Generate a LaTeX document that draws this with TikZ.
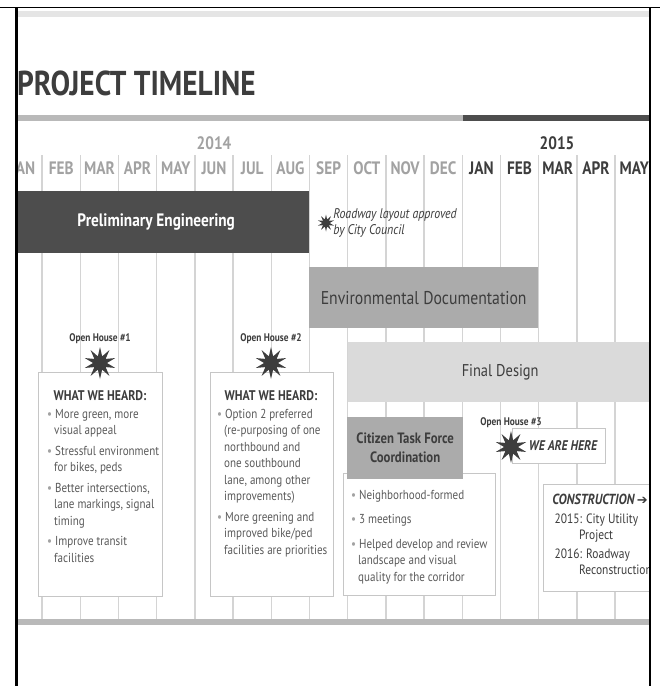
\documentclass[tikz,border=0pt]{standalone}
\usepackage{fontspec}
\setmainfont[FakeStretch=0.85]{PT Sans}
\newfontfamily\symfont{DejaVu Sans}
\usetikzlibrary{shapes.geometric}
\usetikzlibrary{positioning}
\definecolor{ink}{HTML}{3D3D3D}
\definecolor{prelimgray}{HTML}{4D4D4D}
\definecolor{envgray}{HTML}{ABABAB}
\definecolor{finalgray}{HTML}{DADADA}
\definecolor{gridgray}{HTML}{D4D4D4}
\definecolor{boxline}{HTML}{C6C6C6}
\definecolor{bodygray}{HTML}{5A5A5A}
\definecolor{oldgray}{HTML}{A2A2A2}
\newcommand{\bul}{{\color{oldgray}\textbullet}\ }
\newcommand{\ind}{\hspace*{7pt}}
\newcommand{\fs}[2]{\fontsize{#1}{#2}\selectfont}

\begin{document}
\begin{tikzpicture}[x=1pt, y=-1pt,
    month/.style={font=\bfseries\fs{18}{18}, text=oldgray, inner sep=0pt},
    newmonth/.style={font=\bfseries\fs{18}{18}, text=ink, inner sep=0pt},
    bar/.style={anchor=north west, inner sep=0pt, font=\fs{18.5}{18.5}},
    whitebox/.style={draw=boxline, line width=1.2pt, fill=white, anchor=north west, inner sep=0pt},
    burst/.style={star, star points=10, star point ratio=2.3, minimum size=32pt, fill=ink, inner sep=0pt},
    openhouse/.style={font=\bfseries\fs{11}{11}, text=ink, inner sep=0pt},
    heard/.style={font=\bfseries\fs{14}{14}, text=ink, inner sep=0pt},
    listtext/.style={font=\fs{13}{16.5}, text=bodygray, align=left, anchor=north west, inner sep=0pt}]
  \useasboundingbox (0,0) rectangle (660,686);

  \begin{scope}
    \clip (17,0) rectangle (649,686);
    % timeline rules
    \fill[oldgray!75] (17,115) rectangle (463,121);
    \fill[prelimgray] (463,115) rectangle (649,121);
    \fill[oldgray!75] (17,619) rectangle (649,625);
    \fill[gridgray!60] (17,11) rectangle (649,17);

    \foreach \k in {0,...,16}
      \draw[gridgray, line width=1.4pt] ({42+38.2*\k},155) -- ({42+38.2*\k},619);

    % years and months
    \node[font=\bfseries\fs{18}{18}, text=oldgray] (y14) at (214,143) {2014};
    \node[font=\bfseries\fs{18}{18}, text=ink] (y15) at (557,143) {2015};
    \foreach \m [count=\i from 0] in {JAN,FEB,MAR,APR,MAY,JUN,JUL,AUG,SEP,OCT,NOV,DEC}
      \node[month] (m\i) at ({23+38.2*\i},168) {\m};
    \foreach \m [count=\i from 12] in {JAN,FEB,MAR,APR,MAY}
      \node[newmonth] (m\i) at ({23+38.2*\i},168) {\m};

    % phases
    \node[bar, fill=prelimgray, text=white, font=\bfseries\fs{18}{18},
      minimum width=306, minimum height=62] (prelim) at (3,191) {Preliminary Engineering};
    \node[bar, fill=envgray, text=ink, minimum width=229, minimum height=61]
      (env) at (309,267) {Environmental Documentation};
    \node[bar, fill=finalgray, text=ink, font=\fs{17}{17}, minimum width=304, minimum height=60]
      (final) at (348,342) {Final Design};

    \node[burst, minimum size=17pt] (council) at (326,223) {};
    \node[right=3pt of council, font=\itshape\fs{14}{16}, text=ink, align=left, inner sep=0pt]
      (councillbl) {Roadway layout approved\\by City Council};

    % open house 1
    \node[whitebox, minimum width=124, minimum height=224] (box1) at (38,372) {};
    \node[burst] (oh1) at (100,363) {};
    \node[openhouse, above=2pt of oh1] (oh1lbl) {Open House \#1};
    \node[heard] (heard1) at (100,396) {WHAT WE HEARD:};
    \node[listtext] (list1) at (47,409) {\bul More green, more\\
      \ind visual appeal\\[4pt]
      \bul Stressful environment\\
      \ind for bikes, peds\\[4pt]
      \bul Better intersections,\\
      \ind lane markings, signal\\
      \ind timing\\[4pt]
      \bul Improve transit\\
      \ind facilities};

    % open house 2
    \node[whitebox, minimum width=123, minimum height=224] (box2) at (210,372) {};
    \node[burst] (oh2) at (271,363) {};
    \node[openhouse, above=2pt of oh2] (oh2lbl) {Open House \#2};
    \node[heard] (heard2) at (271,396) {WHAT WE HEARD:};
    \node[listtext] (list2) at (217,409) {\bul Option 2 preferred\\
      \ind (re-purposing of one\\
      \ind northbound and\\
      \ind one southbound\\
      \ind lane, among other\\
      \ind improvements)\\[4pt]
      \bul More greening and\\
      \ind improved bike/ped\\
      \ind facilities are priorities};

    % citizen task force
    \node[whitebox, minimum width=152, minimum height=122] (ctfbox) at (343,473) {};
    \node[bar, fill=envgray, text=ink, font=\bfseries\fs{15}{19}, align=center,
      minimum width=116, minimum height=62] (ctf) at (347,417) {Citizen Task Force\\Coordination};
    \node[listtext] (ctflist) at (351,490) {\bul Neighborhood-formed\\[8pt]
      \bul 3 meetings\\[8pt]
      \bul Helped develop and review\\
      \ind landscape and visual\\
      \ind quality for the corridor};

    % open house 3
    \node[whitebox, minimum width=93, minimum height=35] (here) at (512,428) {};
    \node[font=\bfseries\itshape\fs{14}{14}, text=ink] (herelbl) at (563,446) {WE ARE HERE};
    \node[burst] (oh3) at (511,447) {};
    \node[openhouse, above=2pt of oh3] (oh3lbl) {Open House \#3};

    % construction
    \node[whitebox, minimum width=150, minimum height=107] (cons) at (543,484) {};
    \node[listtext, text=ink, font=\fs{13.5}{16}] (conslist) at (549,494)
      {{\bfseries\itshape\fs{14.6}{16} CONSTRUCTION\,{\symfont\fs{13}{13}➔}}\\[3pt]
      \ \,2015: City Utility\\
      \hspace*{30pt}Project\\[3pt]
      \ \,2016: Roadway\\
      \hspace*{30pt}Reconstruction};
  \end{scope}

  % frame
  \draw[black, line width=1pt] (0,7) -- (660,7);
  \draw[black, line width=2.5pt] (16.5,7) -- (16.5,686);
  \draw[black, line width=2.5pt] (650,7) -- (650,686);

  \node[anchor=west, font=\bfseries\fs{34.5}{34.5}, text=ink, inner sep=0pt] (title) at (17,83) {PROJECT TIMELINE};
\end{tikzpicture}
\end{document}
